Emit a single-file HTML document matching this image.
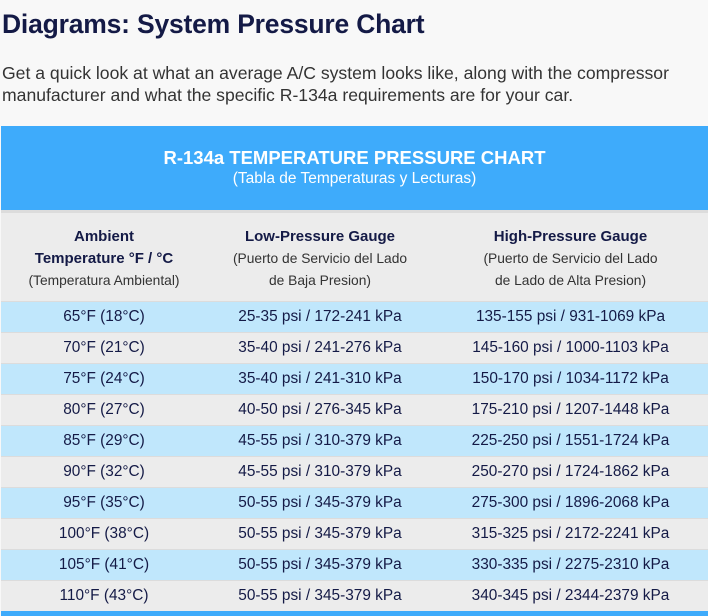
<!DOCTYPE html>
<html><head><meta charset="utf-8"><style>
body{margin:0;width:708px;height:616px;background:#f8f8f8;font-family:"Liberation Sans",sans-serif;overflow:hidden;position:relative}
h1{position:absolute;left:2px;top:9px;margin:0;font-size:26.5px;font-weight:bold;color:#141a46;letter-spacing:-0.2px}
p{position:absolute;left:2px;top:62px;margin:0;font-size:17.6px;line-height:22px;color:#333;width:706px}
.tbl{position:absolute;left:1px;top:126px;width:707px}
.hd{background:#3eabfb;height:84px;color:#fff;text-align:center}
.hd .t{padding-top:21px;font-size:18.5px;font-weight:bold}
.hd .s{font-size:15.5px;margin-top:1px}
.ch{background:#ececec;height:88px;border-top:3px solid #dcdcdc;display:flex;color:#141a46}
.c{text-align:center;box-sizing:border-box;white-space:nowrap}
.c1{width:206px}.c2{width:226px}.c3{width:275px}
.ch .c{padding-top:13px;line-height:22px}
.ch b{font-size:15px}
.ch small{font-size:13.8px;color:#333}
.r{display:flex;height:31px;line-height:30px;font-size:15.4px;color:#141a46;border-top:1px solid #dcdcdc;box-sizing:border-box}
.r:nth-child(odd){background:#c0e7fc}.r:nth-child(even){background:#ececec}
.ft{position:absolute;left:1px;top:611px;width:707px;height:5px;background:#3eabfb}
</style></head><body>
<h1>Diagrams: System Pressure Chart</h1>
<p>Get a quick look at what an average A/C system looks like, along with the compressor manufacturer and what the specific R-134a requirements are for your car.</p>
<div class="tbl">
<div class="hd"><div class="t">R-134a TEMPERATURE PRESSURE CHART</div><div class="s">(Tabla de Temperaturas y Lecturas)</div></div>
<div class="ch"><div class="c c1"><b>Ambient<br>Temperature °F / °C</b><br><small>(Temperatura Ambiental)</small></div><div class="c c2"><b>Low-Pressure Gauge</b><br><small>(Puerto de Servicio del Lado<br>de Baja Presion)</small></div><div class="c c3"><b>High-Pressure Gauge</b><br><small>(Puerto de Servicio del Lado<br>de Lado de Alta Presion)</small></div></div>
<div>
<div class="r"><div class="c c1">65°F (18°C)</div><div class="c c2">25-35 psi / 172-241 kPa</div><div class="c c3">135-155 psi / 931-1069 kPa</div></div>
<div class="r"><div class="c c1">70°F (21°C)</div><div class="c c2">35-40 psi / 241-276 kPa</div><div class="c c3">145-160 psi / 1000-1103 kPa</div></div>
<div class="r"><div class="c c1">75°F (24°C)</div><div class="c c2">35-40 psi / 241-310 kPa</div><div class="c c3">150-170 psi / 1034-1172 kPa</div></div>
<div class="r"><div class="c c1">80°F (27°C)</div><div class="c c2">40-50 psi / 276-345 kPa</div><div class="c c3">175-210 psi / 1207-1448 kPa</div></div>
<div class="r"><div class="c c1">85°F (29°C)</div><div class="c c2">45-55 psi / 310-379 kPa</div><div class="c c3">225-250 psi / 1551-1724 kPa</div></div>
<div class="r"><div class="c c1">90°F (32°C)</div><div class="c c2">45-55 psi / 310-379 kPa</div><div class="c c3">250-270 psi / 1724-1862 kPa</div></div>
<div class="r"><div class="c c1">95°F (35°C)</div><div class="c c2">50-55 psi / 345-379 kPa</div><div class="c c3">275-300 psi / 1896-2068 kPa</div></div>
<div class="r"><div class="c c1">100°F (38°C)</div><div class="c c2">50-55 psi / 345-379 kPa</div><div class="c c3">315-325 psi / 2172-2241 kPa</div></div>
<div class="r"><div class="c c1">105°F (41°C)</div><div class="c c2">50-55 psi / 345-379 kPa</div><div class="c c3">330-335 psi / 2275-2310 kPa</div></div>
<div class="r"><div class="c c1">110°F (43°C)</div><div class="c c2">50-55 psi / 345-379 kPa</div><div class="c c3">340-345 psi / 2344-2379 kPa</div></div>
</div></div>
<div class="ft"></div>
</body></html>
